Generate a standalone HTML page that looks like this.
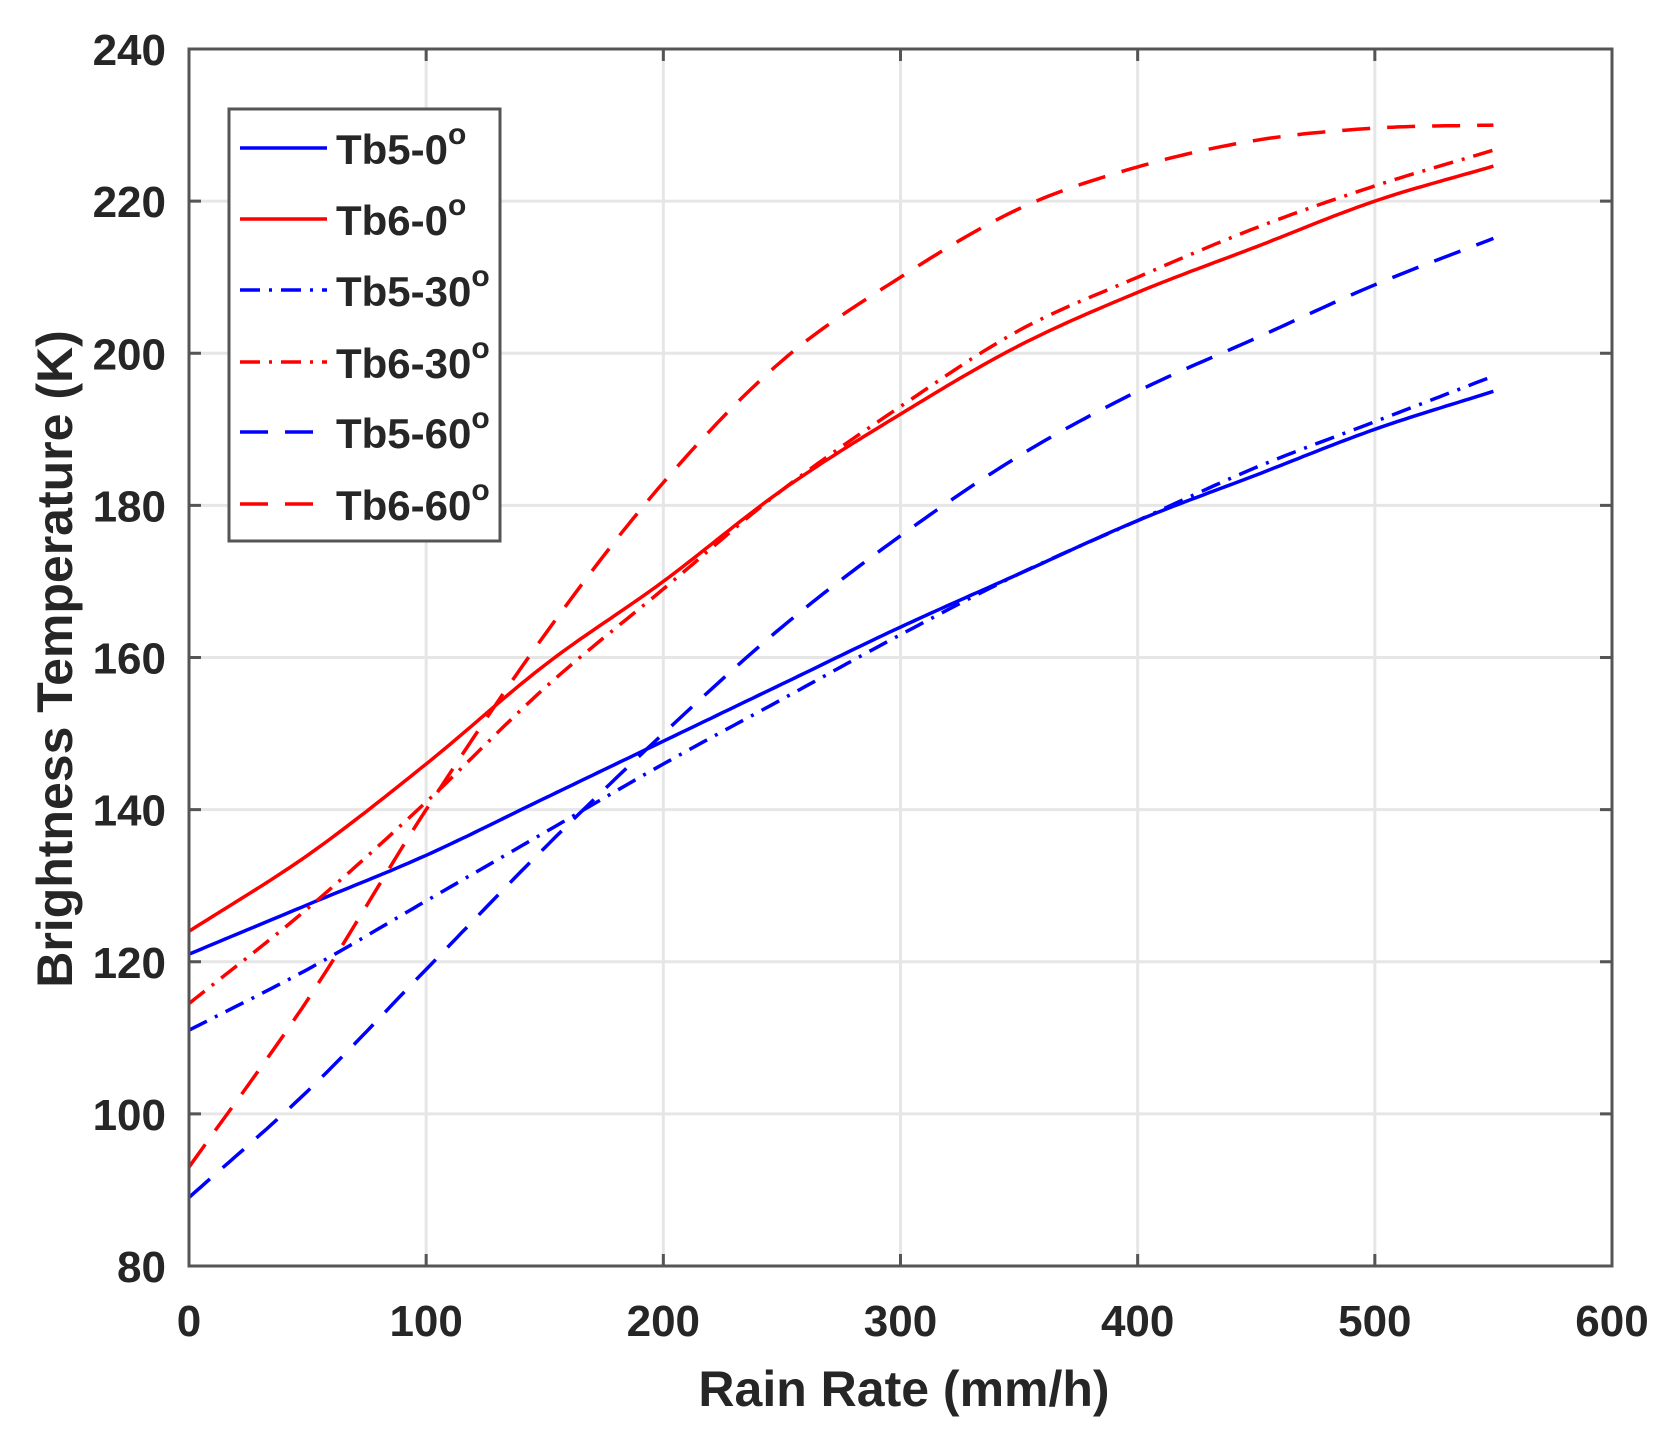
<!DOCTYPE html>
<html><head><meta charset="utf-8"><style>
html,body{margin:0;padding:0;background:#fff;}
svg text{font-family:"Liberation Sans",Arial,sans-serif;font-weight:bold;fill:#262626;}
</style></head><body>
<svg id="s" width="1673" height="1431" viewBox="0 0 1673 1431" xmlns="http://www.w3.org/2000/svg">
<rect x="0" y="0" width="1673" height="1431" fill="#fff"/>
<g id="grid" stroke="#e6e6e6" stroke-width="3"></g>
<g id="curves" fill="none" stroke-width="3.5"></g>
<rect x="189" y="49" width="1423" height="1217" fill="none" stroke="#555" stroke-width="3"/>
<g id="ticks" stroke="#555" stroke-width="3"></g>
<g id="labels"></g>
<text x="904" y="1406" font-size="50" text-anchor="middle">Rain Rate (mm/h)</text>
<text transform="translate(72,659) rotate(-90)" font-size="50" text-anchor="middle">Brightness Temperature (K)</text>
<rect x="229" y="109" width="271" height="432" fill="#fff" stroke="#555" stroke-width="3"/>
<g id="legend"></g>
</svg>
<script>
var X0=189,X1=1612,Y0=1266,Y1=49;
function px(x){return X0+x*(X1-X0)/600;}
function py(y){return Y0-(y-80)*(Y0-Y1)/160;}
var g=document.getElementById('grid'),t=document.getElementById('ticks'),l=document.getElementById('labels');
var NS='http://www.w3.org/2000/svg';
function el(p,n,a,txt){var e=document.createElementNS(NS,n);for(var k in a)e.setAttribute(k,a[k]);if(txt)e.textContent=txt;p.appendChild(e);return e;}
for(var x=0;x<=600;x+=100){var X=px(x);
 if(x>0&&x<600){el(g,'line',{x1:X,y1:Y1,x2:X,y2:Y0});el(t,'line',{x1:X,y1:Y0,x2:X,y2:Y0-12});el(t,'line',{x1:X,y1:Y1,x2:X,y2:Y1+12});}
 el(l,'text',{x:X,y:1336,'font-size':44,'text-anchor':'middle'},String(x));}
for(var y=80;y<=240;y+=20){var Y=py(y);
 if(y>80&&y<240){el(g,'line',{x1:X0,y1:Y,x2:X1,y2:Y});el(t,'line',{x1:X0,y1:Y,x2:X0+12,y2:Y});el(t,'line',{x1:X1,y1:Y,x2:X1-12,y2:Y});}
 el(l,'text',{x:166,y:Y+16,'font-size':44,'text-anchor':'end'},String(y));}
var xs=[0,50,100,150,200,250,300,350,400,450,500,550];
var S=[
 {c:'#0000ff',d:'',v:[121,127.5,134,141.5,149,156.5,164,171,178,184,190,195]},
 {c:'#ff0000',d:'',v:[124,134,146,159,170,182,192,201,208,214,220,224.6]},
 {c:'#0000ff',d:'20 9 3 9',v:[111,119,128,137,146,154.5,163,171,178,185,191,197]},
 {c:'#ff0000',d:'20 9 3 9',v:[114.5,127,141,156,169,182,193,203,210,216.5,222,226.7]},
 {c:'#0000ff',d:'28 17',v:[89,103,119,135,150,164,176,186.5,195,202,209,215.1]},
 {c:'#ff0000',d:'28 17',v:[93,115,140,163,183,199,210,219,224.5,228,229.6,230]}
];
var cg=document.getElementById('curves');
S.forEach(function(s){
 var n=xs.length,m=[];
 for(var i=0;i<n;i++){var a=i>0?i-1:0,b=i<n-1?i+1:n-1;m.push((s.v[b]-s.v[a])/(xs[b]-xs[a]));}
 var d='M'+px(0)+','+py(s.v[0]);
 for(var i=0;i<n-1;i++){var h=xs[i+1]-xs[i];
  for(var k=1;k<=20;k++){var u=k/20,h00=2*u*u*u-3*u*u+1,h10=u*u*u-2*u*u+u,h01=-2*u*u*u+3*u*u,h11=u*u*u-u*u;
   var yv=h00*s.v[i]+h10*h*m[i]+h01*s.v[i+1]+h11*h*m[i+1];d+=' L'+px(xs[i]+u*h).toFixed(1)+','+py(yv).toFixed(1);}}
 var a={d:d,stroke:s.c};if(s.d)a['stroke-dasharray']=s.d;el(cg,'path',a);
});
var lg=document.getElementById('legend'),names=['Tb5-0','Tb6-0','Tb5-30','Tb6-30','Tb5-60','Tb6-60'];
var ly=[148,219,290,362,432,504];
S.forEach(function(s,i){
 var a={x1:240,y1:ly[i],x2:327,y2:ly[i],stroke:s.c,'stroke-width':3.5};if(s.d)a['stroke-dasharray']=s.d;el(lg,'line',a);
 var tx=el(lg,'text',{x:336,y:ly[i]+16,'font-size':42},names[i]);
 el(tx,'tspan',{dy:-20,'font-size':30},'o');
});
</script>
</body></html>
